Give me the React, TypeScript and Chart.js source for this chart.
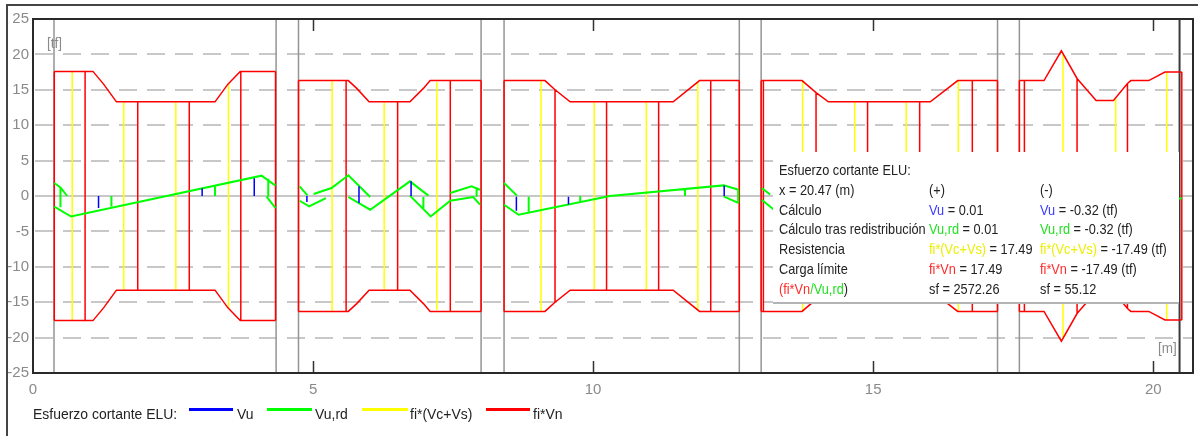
import React, { useEffect, useRef } from "react";
import { Chart, registerables } from "chart.js";

Chart.register(...registerables);

type P = [number, number];
type Seg = [number, number, number];

const FONT = "'Liberation Sans', Arial, sans-serif";

// ---- axes ----
const X_MIN = 0;
const X_MAX = 20.71;
const Y_MIN = -25;
const Y_MAX = 25;
const xTickValues = [0, 5, 10, 15, 20];
const yTickValues = [-25, -20, -15, -10, -5, 0, 5, 10, 15, 20, 25];

// ---- supports (gray verticals) and cursor ----
const supportX = [0.375, 4.34, 4.74, 8.0, 8.41, 12.61, 13.0, 17.22, 17.61];
const cursorX = 20.47;

// ---- fi*Vn envelope (upper side; lower side is its negative) ----
const fiVnSpan1: P[] = [[0.38, 17.6], [1.07, 17.6], [1.26, 15.8], [1.49, 13.3], [3.25, 13.3], [3.48, 15.8], [3.7, 17.6], [4.33, 17.6]];
const fiVnSpan2: P[] = [[4.74, 16.3], [5.63, 16.3], [5.78, 15.2], [6.0, 13.3], [6.73, 13.3], [6.97, 15.2], [7.09, 16.3], [8.0, 16.3]];
const fiVnSpan3: P[] = [[8.41, 16.3], [9.14, 16.3], [9.32, 15.0], [9.59, 13.3], [11.43, 13.3], [11.9, 16.3], [12.61, 16.3]];
const fiVnSpan4: P[] = [[13.0, 16.3], [13.73, 16.3], [13.98, 14.6], [14.2, 13.3], [16.02, 13.3], [16.51, 16.3], [17.22, 16.3]];
const fiVnSpan5: P[] = [[17.61, 16.3], [18.05, 16.3], [18.36, 20.5], [18.64, 16.6], [18.98, 13.5], [19.29, 13.5], [19.54, 15.9], [19.6, 16.3], [19.92, 16.3], [20.21, 17.5], [20.51, 17.5]];

// ---- fi*Vn stations (x, value) drawn from +value to -value ----
const fiVnStations: P[] = [
  [0.38, 17.6], [0.93, 17.6], [1.87, 13.3], [2.79, 13.3], [3.71, 17.6], [4.33, 17.6],
  [4.74, 16.3], [5.59, 16.3], [6.51, 13.3], [7.45, 16.3], [8.0, 16.3],
  [8.41, 16.3], [9.32, 15.0], [10.24, 13.3], [11.17, 13.3], [12.1, 16.3], [12.61, 16.3],
  [13.0, 16.3], [13.04, 16.3], [13.98, 14.6], [14.9, 13.3], [15.83, 13.3], [16.77, 16.3], [17.22, 16.3],
  [17.61, 16.3], [17.7, 16.3], [18.64, 16.6], [19.54, 15.9], [20.51, 17.5],
];

// ---- fi*(Vc+Vs) stations (x, value) drawn from +value to -value ----
const fiVcVsStations: P[] = [
  [0.7, 17.6], [1.62, 13.3], [2.55, 13.3], [3.49, 15.8],
  [5.34, 16.3], [6.27, 13.3], [7.21, 16.1],
  [9.07, 16.3], [10.02, 13.3], [10.95, 13.3], [11.87, 16.0],
  [13.74, 16.3], [14.67, 13.3], [15.59, 13.3], [16.52, 16.3],
  [18.39, 20.0], [19.33, 13.8], [20.24, 17.5],
];

// ---- Vu,rd polylines ----
const vuRdLines: P[][] = [
  [[0.38, 1.84], [0.49, 1.2], [0.61, 0.0]],
  [[0.38, -1.5], [0.68, -2.9], [4.08, 2.87], [4.33, 1.46]],
  [[4.17, -0.1], [4.33, -1.7]],
  [[4.76, 1.36], [4.9, 0.1]],
  [[4.76, -0.67], [4.93, -1.47], [5.23, -0.3]],
  [[5.01, 0.28], [5.33, 1.13], [5.63, 2.92], [6.02, -0.14]],
  [[5.63, -0.14], [6.02, -1.94], [6.73, 2.07], [7.06, 0.05]],
  [[6.73, 0.05], [7.1, -2.89], [7.45, -0.67], [7.86, -0.14], [7.98, -1.23]],
  [[7.45, 0.42], [7.83, 1.36], [7.98, 0.89]],
  [[8.41, 1.84], [8.64, 0.05]],
  [[8.41, -1.23], [8.67, -2.65], [10.3, 0.0], [12.33, 1.5], [12.6, 0.89]],
  [[12.33, -0.05], [12.6, -1.0]],
  [[13.01, 1.13], [13.16, 0.2]],
  [[13.01, -0.52], [13.3, -2.4], [16.95, 2.5], [17.22, 1.2]],
  [[17.05, -0.1], [17.22, -1.5]],
  [[17.61, 1.6], [17.75, 0.2]],
  [[17.61, -1.0], [17.9, -2.1], [18.4, 0.9], [18.9, -1.4], [19.5, 1.3], [20.0, -0.9], [20.51, -0.32]],
];

// ---- Vu,rd vertical ticks (x, from, to) ----
const vuRdTicks: Seg[] = [
  [0.49, 1.2, -1.6], [1.4, -1.5, 0], [3.25, 1.6, 0], [4.2, 2.45, -0.1],
  [6.97, -0.14, -1.94], [7.92, 1.2, -0.1],
  [8.85, -0.1, -2.2], [9.77, 0, -0.9], [11.64, 0.95, 0], [12.59, 0.89, -1.0],
];

// ---- Vu vertical ticks (x, from, to) ----
const vuTicks: Seg[] = [
  [1.17, 0, -1.7], [3.02, 1.1, 0], [3.95, 2.5, 0],
  [4.89, 0, -0.85], [5.82, 1.36, -1.0], [6.75, 2.07, 0],
  [8.63, -0.1, -2.1], [9.56, -0.1, -1.2], [12.34, 1.5, 0],
];

const COLORS = {
  vu: "#0000ff",
  vuRd: "#00ff00",
  fiVcVs: "#ffff00",
  fiVn: "#ff0000",
  support: "#959595",
  cursor: "#3a3a3a",
};

type Pt = { x: number; y: number | null };

function polylines(lines: P[][]): Pt[] {
  const out: Pt[] = [];
  lines.forEach((l) => {
    l.forEach(([x, y]) => out.push({ x, y }));
    out.push({ x: l[l.length - 1][0], y: null });
  });
  return out;
}

function segs(items: Seg[]): Pt[] {
  const out: Pt[] = [];
  items.forEach(([x, a, b]) => {
    out.push({ x, y: a }, { x, y: b }, { x, y: null });
  });
  return out;
}

function mirrored(items: P[]): Seg[] {
  return items.map(([x, v]) => [x, v, -v] as Seg);
}

const framePlugin = {
  id: "framePlugin",
  beforeDatasetsDraw(chart: any) {
    const { ctx, chartArea: a, scales } = chart;
    const ys = scales.y;
    ctx.save();
    ctx.lineWidth = 2;
    ctx.strokeStyle = "#c8c8c8";
    yTickValues.forEach((v) => {
      if (v <= Y_MIN || v >= Y_MAX) return;
      const py = Math.round(ys.getPixelForValue(v));
      ctx.setLineDash(v === 0 ? [] : [18, 10]);
      ctx.beginPath();
      ctx.moveTo(a.left + 2, py);
      ctx.lineTo(a.right, py);
      ctx.stroke();
    });
    ctx.restore();
  },
  afterDatasetsDraw(chart: any) {
    const { ctx, chartArea: a, scales } = chart;
    const xs = scales.x;
    ctx.save();
    ctx.strokeStyle = "#333";
    ctx.lineWidth = 1.5;
    xTickValues.forEach((v) => {
      if (v === X_MIN) return;
      const px = Math.round(xs.getPixelForValue(v)) + 0.5;
      ctx.beginPath();
      ctx.moveTo(px, a.top);
      ctx.lineTo(px, a.top + 12);
      ctx.moveTo(px, a.bottom - 12);
      ctx.lineTo(px, a.bottom);
      ctx.stroke();
    });
    ctx.lineWidth = 2;
    ctx.strokeStyle = "#2a2a2a";
    ctx.strokeRect(a.left, a.top, a.right - a.left, a.bottom - a.top);
    ctx.restore();
  },
};

function Txt(props: { x: number; y: number; size: number; color?: string; sx?: number; children: any }) {
  const { x, y, size, color = "#222", sx = 1, children } = props;
  return (
    <div
      style={{
        position: "absolute",
        left: x,
        top: y - 10,
        height: 20,
        lineHeight: "20px",
        fontSize: size,
        color,
        whiteSpace: "nowrap",
        transform: `scaleX(${sx})`,
        transformOrigin: "0 50%",
        fontFamily: FONT,
      }}
    >
      {children}
    </div>
  );
}

function LegendLine(props: { x1: number; x2: number; y: number; color: string }) {
  return (
    <div
      style={{
        position: "absolute",
        left: props.x1,
        top: props.y - 1.5,
        width: props.x2 - props.x1,
        height: 3,
        background: props.color,
      }}
    />
  );
}

const TT_COLORS = { vu: "#3a3aff", vuRd: "#22e022", fiVcVs: "#eeee00", fiVn: "#ff2a2a" };

export default function App() {
  const ref = useRef<HTMLCanvasElement>(null);

  useEffect(() => {
    const canvas = ref.current;
    if (!canvas) return;
    Chart.defaults.font.family = FONT;

    const fiVnData: Pt[] = [
      ...polylines([fiVnSpan1, fiVnSpan2, fiVnSpan3, fiVnSpan4, fiVnSpan5]),
      ...polylines([fiVnSpan1, fiVnSpan2, fiVnSpan3, fiVnSpan4, fiVnSpan5].map((s) => s.map(([x, y]) => [x, -y] as P))),
      ...segs(mirrored(fiVnStations)),
    ];

    const chart = new Chart(canvas, {
      type: "line",
      data: {
        datasets: [
          {
            label: "supports",
            data: segs(supportX.map((x) => [x, Y_MIN, Y_MAX] as Seg)) as any,
            borderColor: COLORS.support,
            borderWidth: 1.5,
            order: 10,
          },
          {
            label: "cursor",
            data: segs([[cursorX, Y_MIN, Y_MAX]]) as any,
            borderColor: COLORS.cursor,
            borderWidth: 2,
            order: 9,
          },
          {
            label: "fi*Vn",
            data: fiVnData as any,
            borderColor: COLORS.fiVn,
            borderWidth: 1.5,
            order: 5,
          },
          {
            label: "fi*(Vc+Vs)",
            data: segs(mirrored(fiVcVsStations)) as any,
            borderColor: COLORS.fiVcVs,
            borderWidth: 1.5,
            order: 6,
          },
          {
            label: "Vu,rd",
            data: [...polylines(vuRdLines), ...segs(vuRdTicks)] as any,
            borderColor: COLORS.vuRd,
            borderWidth: 2,
            order: 3,
          },
          {
            label: "Vu",
            data: segs(vuTicks) as any,
            borderColor: COLORS.vu,
            borderWidth: 1.5,
            order: 2,
          },
        ],
      },
      options: {
        animation: false,
        responsive: false,
        maintainAspectRatio: false,
        devicePixelRatio: 1,
        events: [],
        spanGaps: false,
        layout: { padding: { top: 19, right: 5, left: 0, bottom: 0 } },
        elements: { point: { radius: 0 }, line: { tension: 0, fill: false } },
        plugins: { legend: { display: false }, tooltip: { enabled: false } },
        scales: {
          x: {
            type: "linear",
            min: X_MIN,
            max: X_MAX,
            grid: { display: false, drawTicks: false },
            border: { display: false },
            afterBuildTicks: (s: any) => {
              s.ticks = xTickValues.map((v) => ({ value: v }));
            },
            afterFit: (s: any) => {
              s.height = 63;
            },
            ticks: { color: "#8a8a8a", font: { size: 15 }, padding: 8, maxRotation: 0, autoSkip: false },
          },
          y: {
            type: "linear",
            min: Y_MIN,
            max: Y_MAX,
            grid: { display: false, drawTicks: false },
            border: { display: false },
            afterBuildTicks: (s: any) => {
              s.ticks = yTickValues.map((v) => ({ value: v }));
            },
            afterFit: (s: any) => {
              s.width = 33;
            },
            ticks: { color: "#8a8a8a", font: { size: 15 }, padding: 4, autoSkip: false },
          },
        },
      } as any,
      plugins: [framePlugin],
    });
    return () => chart.destroy();
  }, []);

  const rowY = (i: number) => 170 + i * 19.8;
  const c1 = 779;
  const c2 = 929;
  const c3 = 1040;
  const ts = 15;
  const tsx = 0.85;

  return (
    <div
      style={{
        position: "absolute",
        left: 0,
        top: 0,
        width: 1198,
        height: 436,
        overflow: "hidden",
        background: "#ffffff",
        fontFamily: FONT,
      }}
    >
      <canvas
        ref={ref}
        width={1198}
        height={436}
        style={{ position: "absolute", left: 0, top: 0, width: 1198, height: 436 }}
      />
      {/* outer window frame */}
      <div
        style={{
          position: "absolute",
          left: 6,
          top: 4,
          width: 1200,
          height: 440,
          borderTop: "2px solid #444",
          borderLeft: "2px solid #444",
        }}
      />
      {/* unit labels */}
      <Txt x={47} y={43} size={15} color="#8a8a8a" sx={0.9}>[tf]</Txt>
      <Txt x={1158} y={348} size={15} color="#8a8a8a" sx={0.9}>[m]</Txt>

      {/* legend */}
      <Txt x={33} y={414} size={15} sx={0.93}>Esfuerzo cortante ELU:</Txt>
      <LegendLine x1={189} x2={233} y={409} color={COLORS.vu} />
      <Txt x={237} y={414} size={15} sx={0.93}>Vu</Txt>
      <LegendLine x1={267} x2={312} y={409} color={COLORS.vuRd} />
      <Txt x={315} y={414} size={15} sx={0.93}>Vu,rd</Txt>
      <LegendLine x1={362} x2={408} y={409} color={COLORS.fiVcVs} />
      <Txt x={410} y={414} size={15} sx={0.93}>fi*(Vc+Vs)</Txt>
      <LegendLine x1={486} x2={530} y={409} color={COLORS.fiVn} />
      <Txt x={533} y={414} size={15} sx={0.93}>fi*Vn</Txt>

      {/* info box */}
      <div
        style={{
          position: "absolute",
          left: 773,
          top: 152,
          width: 406,
          height: 150,
          background: "#ffffff",
          borderBottom: "2px solid #b4b4b4",
        }}
      />
      <Txt x={c1} y={rowY(0)} size={ts} sx={tsx}>Esfuerzo cortante ELU:</Txt>
      <Txt x={c1} y={rowY(1)} size={ts} sx={tsx}>x = 20.47 (m)</Txt>
      <Txt x={c2} y={rowY(1)} size={ts} sx={tsx}>(+)</Txt>
      <Txt x={c3} y={rowY(1)} size={ts} sx={tsx}>(-)</Txt>

      <Txt x={c1} y={rowY(2)} size={ts} sx={tsx}>Cálculo</Txt>
      <Txt x={c2} y={rowY(2)} size={ts} sx={tsx}><span style={{ color: TT_COLORS.vu }}>Vu</span> = 0.01</Txt>
      <Txt x={c3} y={rowY(2)} size={ts} sx={tsx}><span style={{ color: TT_COLORS.vu }}>Vu</span> = -0.32 (tf)</Txt>

      <Txt x={c1} y={rowY(3)} size={ts} sx={tsx}>Cálculo tras redistribución</Txt>
      <Txt x={c2} y={rowY(3)} size={ts} sx={tsx}><span style={{ color: TT_COLORS.vuRd }}>Vu,rd</span> = 0.01</Txt>
      <Txt x={c3} y={rowY(3)} size={ts} sx={tsx}><span style={{ color: TT_COLORS.vuRd }}>Vu,rd</span> = -0.32 (tf)</Txt>

      <Txt x={c1} y={rowY(4)} size={ts} sx={tsx}>Resistencia</Txt>
      <Txt x={c2} y={rowY(4)} size={ts} sx={tsx}><span style={{ color: TT_COLORS.fiVcVs }}>fi*(Vc+Vs)</span> = 17.49</Txt>
      <Txt x={c3} y={rowY(4)} size={ts} sx={tsx}><span style={{ color: TT_COLORS.fiVcVs }}>fi*(Vc+Vs)</span> = -17.49 (tf)</Txt>

      <Txt x={c1} y={rowY(5)} size={ts} sx={tsx}>Carga límite</Txt>
      <Txt x={c2} y={rowY(5)} size={ts} sx={tsx}><span style={{ color: TT_COLORS.fiVn }}>fi*Vn</span> = 17.49</Txt>
      <Txt x={c3} y={rowY(5)} size={ts} sx={tsx}><span style={{ color: TT_COLORS.fiVn }}>fi*Vn</span> = -17.49 (tf)</Txt>

      <Txt x={c1} y={rowY(6)} size={ts} sx={tsx}>
        <span style={{ color: TT_COLORS.fiVn }}>(fi*Vn</span>
        <span style={{ color: TT_COLORS.vuRd }}>/Vu,rd</span>)
      </Txt>
      <Txt x={c2} y={rowY(6)} size={ts} sx={tsx}>sf = 2572.26</Txt>
      <Txt x={c3} y={rowY(6)} size={ts} sx={tsx}>sf = 55.12</Txt>
    </div>
  );
}
